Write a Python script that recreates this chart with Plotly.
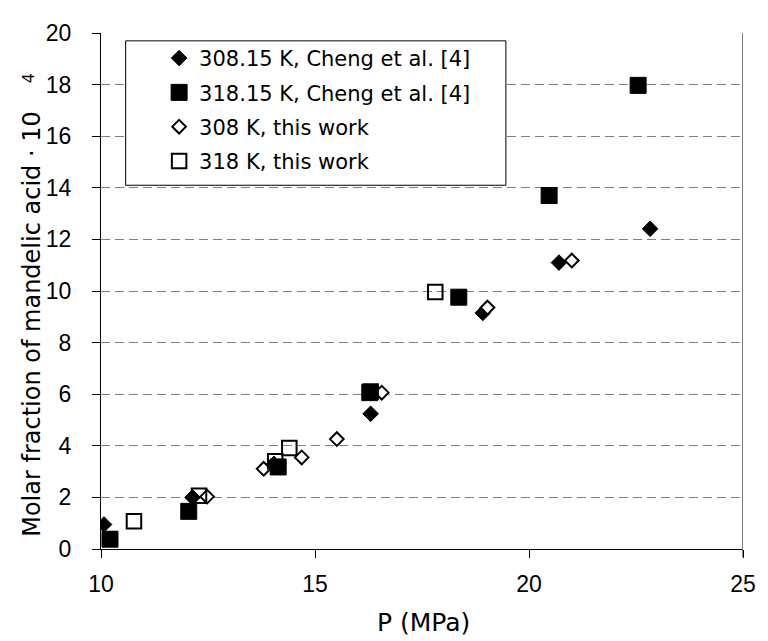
import plotly.graph_objects as go

# ---- data ----
P_308_cheng = [10.07, 12.14, 14.04, 16.30, 18.92, 20.70, 22.83]
x_308_cheng = [0.95, 2.00, 3.30, 5.24, 9.15, 11.10, 12.41]

P_318_cheng = [10.21, 12.05, 14.14, 16.28, 18.36, 20.47, 22.55]
x_318_cheng = [0.38, 1.46, 3.18, 6.06, 9.76, 13.70, 17.97]

P_308_this = [12.48, 13.80, 14.69, 15.51, 16.56, 19.03, 21.00]
x_308_this = [2.03, 3.11, 3.55, 4.26, 6.06, 9.36, 11.18]

P_318_this = [10.77, 12.29, 14.07, 14.40, 16.30, 17.81]
x_318_this = [1.08, 2.06, 3.40, 3.91, 6.10, 9.96]

names = ["308.15 K, Cheng et al. [4]", "318.15 K, Cheng et al. [4]",
         "308 K, this work", "318 K, this work"]

x_ticks = [10, 15, 20, 25]
y_ticks = [0, 2, 4, 6, 8, 10, 12, 14, 16, 18, 20]

# ---- layout geometry (page pixels; the page body has an 8px margin) ----
OFF = 8
FW, FH = 768 - OFF, 641 - OFF
PL, PR, PT, PB = 101, 752.7, 24, 549.3     # plot area in page pixels
L = PL - OFF
T = PT - OFF
R = FW - (PR - OFF)
B = FH - (PB - OFF)
pw = PR - PL
ph = PB - PT

def px_x(px):
    return (px - PL) / pw

def px_y(py):
    return (PB - py) / ph

AX_FONT = "Arial, Liberation Sans, sans-serif"
WIDE_FONT = "DejaVu Sans, sans-serif"

fig = go.Figure()

fig.add_trace(go.Scatter(
    x=P_308_cheng, y=x_308_cheng, mode="markers", name=names[0],
    legendrank=1, legendgroup="a",
    marker=dict(symbol="diamond", size=12, color="black",
                line=dict(color="black", width=1))))
fig.add_trace(go.Scatter(
    x=P_308_this, y=x_308_this, mode="markers", name=names[2],
    legendrank=3, legendgroup="c",
    marker=dict(symbol="diamond", size=10.5, color="white",
                line=dict(color="black", width=2))))
fig.add_trace(go.Scatter(
    x=P_318_cheng, y=x_318_cheng, mode="markers", name=names[1],
    legendrank=2, legendgroup="b",
    marker=dict(symbol="square", size=16, color="black",
                line=dict(color="black", width=1))))
fig.add_trace(go.Scatter(
    x=P_318_this, y=x_318_this, mode="markers", name=names[3],
    legendrank=4, legendgroup="d",
    marker=dict(symbol="square-open", size=14.5, color="black",
                line=dict(color="black", width=2))))

fig.update_layout(
    width=FW, height=FH,
    margin=dict(l=L, r=R, t=T, b=B, pad=0),
    paper_bgcolor="white", plot_bgcolor="white",
    font=dict(family=AX_FONT, size=23, color="black"),
    showlegend=True,
    legend=dict(
        x=px_x(160), y=px_y(29), xanchor="left", yanchor="top",
        bgcolor="rgba(0,0,0,0)", borderwidth=0,
        font=dict(family=WIDE_FONT, size=21, color="black"),
        tracegroupgap=4, traceorder="grouped",
    ),
    xaxis=dict(
        range=[10, 25], tickvals=x_ticks, ticktext=[str(v) for v in x_ticks],
        showgrid=False, zeroline=False,
        showline=True, linecolor="black", linewidth=1,
        ticks="outside", ticklen=8, tickcolor="black", tickwidth=1,
        ticklabelstandoff=6,
        tickfont=dict(family=AX_FONT, size=23, color="black"),
    ),
    yaxis=dict(
        range=[0, 20], tickvals=y_ticks, ticktext=[str(v) for v in y_ticks],
        showgrid=True, gridcolor="#808080", gridwidth=1, griddash="9px,5px",
        zeroline=False,
        showline=True, linecolor="black", linewidth=1,
        ticks="outside", ticklen=8, tickcolor="black", tickwidth=1,
        ticklabelstandoff=16,
        tickfont=dict(family=AX_FONT, size=23, color="black"),
    ),
    shapes=[
        # legend frame
        dict(type="rect", xref="paper", yref="paper",
             x0=px_x(126), x1=px_x(512), y0=px_y(179), y1=px_y(32),
             fillcolor="white", line=dict(color="black", width=1),
             layer="above"),
        # grey right border of plot area
        dict(type="line", xref="x", yref="paper",
             x0=25, x1=25, y0=px_y(557.5), y1=1,
             line=dict(color="#808080", width=2), layer="above"),
    ],
    annotations=[
        dict(text="Molar fraction of mandelic acid · 10", xref="paper", yref="paper",
             x=px_x(31), y=px_y(320), xanchor="center", yanchor="middle",
             textangle=-90, showarrow=False,
             font=dict(family=WIDE_FONT, size=24, color="black")),
        dict(text="4", xref="paper", yref="paper",
             x=px_x(27), y=px_y(70), xanchor="center", yanchor="middle",
             textangle=-90, showarrow=False,
             font=dict(family=WIDE_FONT, size=16, color="black")),
        dict(text="P (MPa)", xref="paper", yref="paper",
             x=px_x(428), y=px_y(624), xanchor="center", yanchor="middle",
             showarrow=False,
             font=dict(family=WIDE_FONT, size=25, color="black")),
    ],
)

fig.write_html("out.html")
